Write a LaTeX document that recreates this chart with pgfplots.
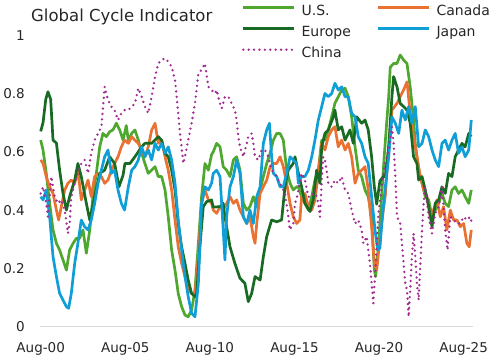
\documentclass[border=0pt]{standalone}
\usepackage{fontspec}
\setmainfont{DejaVu Sans}
\usepackage{pgfplots}
\pgfplotsset{compat=1.18}
\definecolor{usgreen}{HTML}{4EA72E}
\definecolor{caorange}{HTML}{E97132}
\definecolor{eugreen}{HTML}{196B24}
\definecolor{jpblue}{HTML}{0F9ED5}
\definecolor{cnpurple}{HTML}{A02B93}
\definecolor{txt}{HTML}{262626}
\begin{document}
\begin{tikzpicture}
\useasboundingbox (-40bp,-33.3bp) rectangle (464bp,326.7bp);
\begin{axis}[
  at={(0,0)}, anchor=south west,
  scale only axis, width=433.3bp, height=291.5bp,
  xmin=-0.04, xmax=25.57, ymin=0, ymax=1,
  axis x line*=bottom, axis y line*=left,
  x axis line style={draw=black!15, line width=1.2bp, -},
  y axis line style={draw=none, -},
  major tick length=0pt, tick style={draw=none},
  xtick={0,5,10,15,20,25},
  xticklabels={Aug-00,Aug-05,Aug-10,Aug-15,Aug-20,Aug-25},
  ytick={0,0.2,0.4,0.6,0.8,1},
  yticklabels={0,0.2,0.4,0.6,0.8,1},
  /pgf/number format/assume math mode=true,
  tick label style={font=\fontsize{13.5bp}{16bp}\selectfont, text=txt, inner sep=0pt},
  yticklabel style={anchor=east, xshift=-15bp},
  xticklabel style={anchor=north, yshift=-15.3bp},
  clip=false,
  legend columns=2,
  legend cell align=left,
  legend style={
    at={(axis description cs:0.466,1.102)}, anchor=north west,
    draw=none, fill=none, inner sep=0pt, outer sep=0pt,
    font=\fontsize{14bp}{16bp}\selectfont, text=txt,
    nodes={inner sep=0pt, text height=10.5bp, text depth=3bp},
    row sep=7.5bp, column sep=0bp,
    /tikz/every odd column/.append style={column sep=6bp},
    /tikz/every even column/.append style={column sep=26bp},
  },
  legend image code/.code={\draw[#1] (0bp,4.5bp) -- (51bp,4.5bp);},
  every axis plot/.append style={line width=2.7bp, line join=round, mark=none},
]
\addplot[usgreen] coordinates {(0.00,0.640)(0.14,0.606)(0.33,0.526)(0.53,0.423)(0.73,0.332)(0.93,0.286)(1.12,0.263)(1.32,0.229)(1.52,0.194)(1.71,0.263)(1.91,0.286)(2.11,0.303)(2.30,0.303)(2.50,0.332)(2.70,0.252)(2.90,0.332)(3.09,0.446)(3.29,0.526)(3.49,0.617)(3.68,0.663)(3.88,0.652)(4.08,0.669)(4.27,0.675)(4.47,0.698)(4.67,0.675)(4.87,0.640)(5.06,0.690)(5.18,0.640)(5.38,0.663)(5.57,0.675)(5.77,0.640)(5.97,0.595)(6.16,0.560)(6.36,0.526)(6.56,0.537)(6.76,0.549)(6.95,0.515)(7.15,0.515)(7.35,0.469)(7.54,0.377)(7.74,0.263)(7.94,0.194)(8.13,0.114)(8.33,0.069)(8.53,0.040)(8.72,0.034)(8.92,0.057)(9.12,0.126)(9.32,0.286)(9.51,0.446)(9.71,0.560)(9.91,0.537)(10.10,0.590)(10.20,0.600)(10.40,0.629)(10.60,0.617)(10.79,0.549)(10.99,0.537)(11.19,0.515)(11.39,0.572)(11.58,0.583)(11.78,0.537)(11.98,0.423)(12.18,0.400)(12.37,0.412)(12.57,0.446)(12.77,0.412)(12.97,0.469)(13.16,0.515)(13.36,0.560)(13.56,0.595)(13.75,0.640)(13.95,0.663)(14.15,0.663)(14.34,0.640)(14.54,0.537)(14.74,0.492)(14.93,0.469)(15.13,0.480)(15.23,0.480)(15.42,0.446)(15.62,0.423)(15.82,0.400)(16.02,0.446)(16.21,0.503)(16.41,0.537)(16.61,0.640)(16.80,0.640)(17.00,0.675)(17.20,0.720)(17.39,0.766)(17.59,0.789)(17.79,0.812)(17.99,0.818)(18.18,0.789)(18.38,0.720)(18.58,0.617)(18.77,0.537)(18.97,0.515)(19.17,0.469)(19.36,0.446)(19.56,0.377)(19.72,0.194)(19.80,0.172)(19.96,0.274)(20.15,0.446)(20.30,0.580)(20.45,0.700)(20.57,0.790)(20.66,0.890)(20.86,0.903)(21.06,0.903)(21.25,0.932)(21.45,0.915)(21.65,0.903)(21.84,0.823)(22.04,0.709)(22.14,0.629)(22.34,0.537)(22.54,0.492)(22.73,0.446)(22.93,0.435)(23.13,0.377)(23.32,0.400)(23.52,0.423)(23.72,0.457)(23.91,0.423)(24.11,0.412)(24.31,0.469)(24.50,0.480)(24.70,0.457)(24.90,0.469)(25.09,0.446)(25.30,0.423)(25.45,0.469)};
\addlegendentry{U.S.}
\addplot[caorange] coordinates {(0.00,0.572)(0.14,0.560)(0.33,0.515)(0.53,0.480)(0.73,0.457)(0.93,0.400)(1.06,0.366)(1.22,0.412)(1.42,0.469)(1.61,0.492)(1.81,0.503)(2.01,0.492)(2.20,0.537)(2.40,0.435)(2.60,0.469)(2.80,0.503)(2.99,0.446)(3.19,0.515)(3.39,0.526)(3.59,0.515)(3.78,0.492)(3.98,0.503)(4.18,0.537)(4.37,0.560)(4.57,0.583)(4.77,0.617)(4.96,0.640)(5.18,0.629)(5.38,0.652)(5.57,0.640)(5.77,0.629)(5.97,0.606)(6.16,0.583)(6.36,0.617)(6.56,0.675)(6.76,0.698)(6.95,0.629)(7.15,0.640)(7.35,0.583)(7.54,0.537)(7.74,0.469)(7.94,0.366)(8.13,0.274)(8.33,0.217)(8.53,0.172)(8.72,0.126)(8.92,0.114)(9.12,0.114)(9.32,0.240)(9.51,0.423)(9.71,0.469)(9.91,0.435)(10.10,0.423)(10.20,0.400)(10.40,0.389)(10.60,0.412)(10.79,0.400)(10.99,0.423)(11.19,0.446)(11.39,0.423)(11.58,0.435)(11.78,0.400)(11.98,0.377)(12.18,0.354)(12.37,0.377)(12.57,0.309)(12.67,0.286)(12.77,0.354)(12.97,0.457)(13.16,0.480)(13.36,0.503)(13.56,0.549)(13.75,0.560)(13.95,0.560)(14.15,0.583)(14.34,0.549)(14.54,0.492)(14.74,0.423)(14.93,0.377)(15.13,0.354)(15.32,0.366)(15.42,0.446)(15.62,0.457)(15.82,0.412)(16.02,0.400)(16.21,0.435)(16.41,0.526)(16.61,0.629)(16.80,0.606)(17.00,0.652)(17.20,0.675)(17.39,0.686)(17.59,0.617)(17.79,0.640)(17.99,0.606)(18.18,0.629)(18.38,0.583)(18.58,0.492)(18.77,0.526)(18.97,0.537)(19.17,0.549)(19.36,0.469)(19.56,0.343)(19.72,0.217)(19.86,0.194)(20.05,0.300)(20.25,0.400)(20.37,0.450)(20.57,0.617)(20.76,0.743)(21.06,0.766)(21.25,0.789)(21.45,0.812)(21.65,0.840)(21.84,0.732)(22.04,0.652)(22.24,0.583)(22.44,0.515)(22.64,0.469)(22.83,0.446)(23.03,0.377)(23.22,0.400)(23.42,0.435)(23.62,0.377)(23.81,0.412)(24.01,0.332)(24.21,0.400)(24.41,0.366)(24.60,0.366)(24.80,0.343)(25.00,0.354)(25.19,0.286)(25.33,0.274)(25.45,0.332)};
\addlegendentry{Canada}
\addplot[eugreen] coordinates {(0.00,0.670)(0.14,0.700)(0.30,0.780)(0.43,0.806)(0.59,0.780)(0.73,0.640)(0.93,0.630)(1.12,0.537)(1.32,0.457)(1.52,0.400)(1.71,0.446)(2.01,0.503)(2.20,0.560)(2.40,0.515)(2.70,0.423)(2.90,0.366)(3.19,0.446)(3.49,0.526)(3.78,0.537)(4.08,0.583)(4.37,0.560)(4.63,0.480)(4.87,0.520)(4.98,0.560)(5.28,0.560)(5.57,0.583)(5.97,0.617)(6.16,0.629)(6.56,0.629)(6.95,0.652)(7.15,0.640)(7.35,0.595)(7.54,0.583)(7.74,0.537)(7.94,0.469)(8.13,0.354)(8.33,0.274)(8.53,0.217)(8.72,0.160)(8.92,0.114)(9.12,0.103)(9.22,0.114)(9.41,0.274)(9.61,0.412)(9.81,0.429)(10.10,0.435)(10.20,0.410)(10.60,0.412)(10.79,0.423)(10.89,0.377)(11.19,0.274)(11.48,0.217)(11.78,0.166)(12.07,0.149)(12.27,0.086)(12.47,0.114)(12.67,0.172)(12.97,0.160)(13.16,0.240)(13.36,0.309)(13.65,0.366)(13.95,0.360)(14.24,0.366)(14.44,0.480)(14.63,0.537)(14.93,0.560)(15.03,0.583)(15.23,0.526)(15.42,0.480)(15.62,0.423)(15.92,0.395)(16.11,0.435)(16.31,0.537)(16.51,0.492)(16.61,0.617)(16.80,0.663)(17.00,0.675)(17.30,0.720)(17.39,0.743)(17.59,0.675)(17.79,0.686)(17.99,0.640)(18.28,0.675)(18.48,0.629)(18.68,0.720)(18.97,0.698)(19.17,0.709)(19.36,0.675)(19.56,0.583)(19.72,0.480)(19.86,0.420)(20.05,0.500)(20.25,0.515)(20.37,0.515)(20.57,0.617)(20.76,0.789)(20.86,0.858)(21.06,0.823)(21.25,0.766)(21.45,0.755)(21.65,0.743)(21.84,0.698)(22.04,0.583)(22.24,0.560)(22.34,0.503)(22.54,0.515)(22.73,0.469)(22.93,0.412)(23.13,0.343)(23.32,0.423)(23.52,0.435)(23.72,0.480)(23.91,0.457)(24.11,0.526)(24.31,0.515)(24.50,0.583)(24.70,0.606)(24.90,0.629)(25.09,0.617)(25.30,0.663)(25.45,0.652)};
\addlegendentry{Europe}
\addplot[jpblue] coordinates {(0.00,0.446)(0.14,0.435)(0.33,0.469)(0.53,0.377)(0.73,0.240)(0.93,0.172)(1.12,0.114)(1.32,0.091)(1.52,0.069)(1.65,0.063)(1.81,0.114)(2.01,0.217)(2.20,0.286)(2.40,0.366)(2.60,0.343)(2.80,0.332)(2.99,0.366)(3.19,0.423)(3.39,0.492)(3.59,0.537)(3.78,0.583)(3.98,0.606)(4.18,0.526)(4.37,0.537)(4.57,0.469)(4.77,0.423)(4.96,0.400)(5.18,0.480)(5.38,0.537)(5.57,0.549)(5.77,0.572)(5.97,0.617)(6.16,0.583)(6.36,0.606)(6.56,0.572)(6.76,0.629)(6.95,0.606)(7.15,0.629)(7.35,0.595)(7.54,0.617)(7.74,0.572)(7.94,0.492)(8.13,0.366)(8.33,0.263)(8.53,0.172)(8.72,0.103)(8.92,0.046)(9.12,0.034)(9.32,0.149)(9.51,0.423)(9.71,0.480)(9.91,0.469)(10.10,0.492)(10.20,0.526)(10.40,0.537)(10.60,0.515)(10.79,0.332)(10.89,0.229)(10.99,0.377)(11.19,0.480)(11.39,0.515)(11.58,0.572)(11.78,0.526)(11.98,0.377)(12.18,0.354)(12.37,0.400)(12.57,0.354)(12.77,0.446)(12.97,0.480)(13.16,0.629)(13.36,0.675)(13.52,0.698)(13.65,0.583)(13.75,0.526)(13.95,0.515)(14.15,0.480)(14.34,0.480)(14.54,0.526)(14.74,0.583)(14.93,0.572)(15.13,0.560)(15.23,0.492)(15.42,0.515)(15.62,0.515)(15.82,0.537)(16.02,0.583)(16.21,0.640)(16.41,0.709)(16.61,0.755)(16.80,0.800)(17.00,0.789)(17.20,0.800)(17.39,0.835)(17.59,0.812)(17.79,0.823)(17.99,0.789)(18.18,0.789)(18.38,0.732)(18.58,0.720)(18.77,0.652)(18.97,0.629)(19.17,0.583)(19.36,0.560)(19.56,0.446)(19.76,0.332)(19.92,0.263)(20.05,0.270)(20.17,0.360)(20.37,0.480)(20.57,0.583)(20.76,0.720)(20.96,0.698)(21.16,0.663)(21.35,0.743)(21.55,0.709)(21.75,0.755)(21.94,0.698)(22.14,0.755)(22.34,0.617)(22.54,0.629)(22.73,0.675)(22.93,0.652)(23.13,0.606)(23.32,0.572)(23.52,0.549)(23.72,0.629)(23.91,0.640)(24.11,0.606)(24.31,0.640)(24.50,0.663)(24.70,0.595)(24.90,0.617)(25.09,0.583)(25.30,0.606)(25.45,0.709)};
\addlegendentry{Japan}
\addplot[cnpurple, line width=2.6bp, line cap=round, dash pattern=on 0bp off 5.4bp] coordinates {(0.00,0.457)(0.14,0.480)(0.33,0.423)(0.43,0.377)(0.63,0.515)(0.83,0.446)(1.02,0.423)(1.22,0.435)(1.42,0.400)(1.61,0.320)(1.71,0.354)(1.81,0.446)(2.01,0.492)(2.20,0.526)(2.40,0.560)(2.60,0.572)(2.80,0.526)(2.99,0.595)(3.19,0.640)(3.39,0.663)(3.59,0.686)(3.68,0.749)(3.78,0.823)(3.98,0.778)(4.18,0.755)(4.37,0.743)(4.57,0.709)(4.77,0.732)(4.96,0.743)(5.18,0.743)(5.38,0.755)(5.57,0.766)(5.77,0.818)(5.97,0.789)(6.16,0.755)(6.36,0.732)(6.56,0.789)(6.76,0.858)(6.95,0.903)(7.15,0.915)(7.35,0.921)(7.54,0.909)(7.74,0.892)(7.94,0.846)(8.04,0.789)(8.13,0.732)(8.23,0.663)(8.33,0.617)(8.43,0.560)(8.53,0.583)(8.72,0.640)(8.92,0.698)(9.12,0.766)(9.32,0.869)(9.51,0.881)(9.71,0.903)(9.91,0.823)(10.10,0.812)(10.30,0.800)(10.40,0.812)(10.60,0.766)(10.70,0.749)(10.89,0.789)(11.09,0.789)(11.29,0.766)(11.48,0.743)(11.58,0.709)(11.68,0.652)(11.78,0.617)(11.98,0.583)(12.18,0.629)(12.27,0.652)(12.47,0.663)(12.57,0.629)(12.67,0.583)(12.86,0.572)(13.06,0.606)(13.26,0.606)(13.45,0.583)(13.65,0.537)(13.85,0.526)(14.04,0.503)(14.24,0.480)(14.44,0.457)(14.64,0.377)(14.73,0.332)(14.93,0.354)(15.03,0.423)(15.13,0.440)(15.42,0.526)(15.62,0.503)(15.82,0.446)(16.02,0.446)(16.21,0.469)(16.41,0.423)(16.51,0.377)(16.61,0.503)(16.70,0.583)(16.80,0.572)(16.90,0.537)(17.00,0.492)(17.20,0.480)(17.39,0.503)(17.59,0.492)(17.79,0.515)(17.99,0.469)(18.18,0.457)(18.38,0.400)(18.58,0.354)(18.77,0.366)(18.97,0.332)(19.07,0.286)(19.27,0.309)(19.46,0.217)(19.56,0.149)(19.66,0.080)(19.76,0.172)(19.96,0.389)(20.15,0.480)(20.35,0.560)(20.57,0.606)(20.76,0.686)(20.86,0.629)(20.96,0.515)(21.06,0.377)(21.25,0.354)(21.35,0.286)(21.45,0.217)(21.55,0.149)(21.65,0.126)(21.75,0.034)(21.84,0.126)(21.94,0.240)(22.04,0.320)(22.14,0.240)(22.24,0.149)(22.34,0.091)(22.44,0.217)(22.54,0.332)(22.63,0.423)(22.73,0.480)(22.93,0.377)(23.13,0.320)(23.32,0.389)(23.52,0.412)(23.72,0.480)(23.91,0.332)(24.05,0.263)(24.21,0.377)(24.41,0.366)(24.60,0.354)(24.80,0.354)(25.00,0.377)(25.19,0.366)(25.39,0.377)(25.49,0.354)};
\addlegendentry{China}
\end{axis}
\node[anchor=base west, inner sep=0pt, text=txt, font=\fontsize{16.5bp}{19bp}\selectfont] at (-9bp,305.4bp) {Global Cycle Indicator};
\end{tikzpicture}
\end{document}
